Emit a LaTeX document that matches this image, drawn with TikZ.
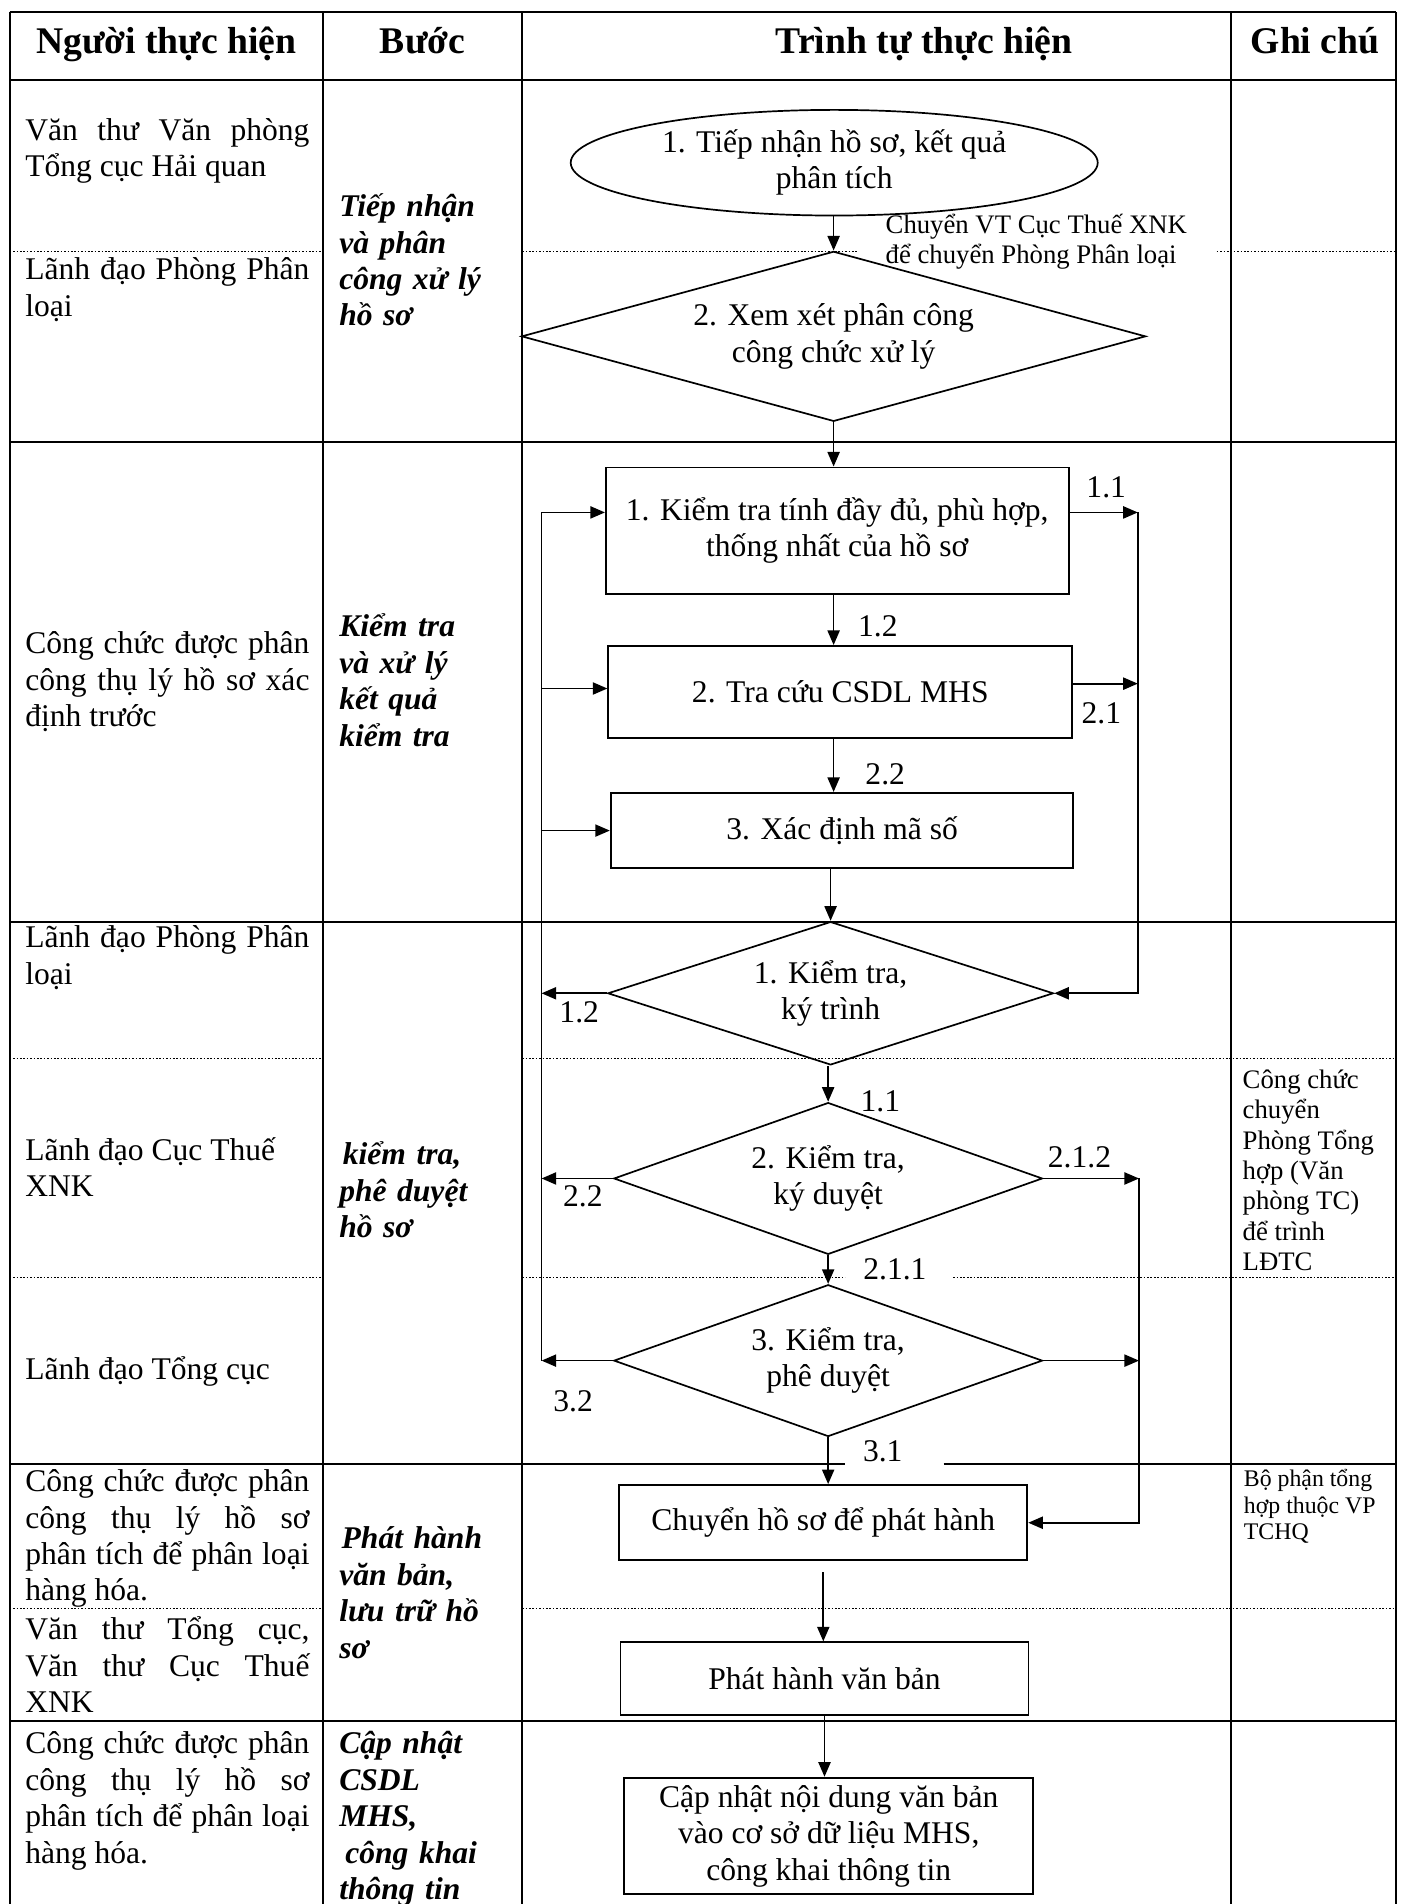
\documentclass[tikz,border=0pt]{standalone}
\usepackage{fontspec}
\setmainfont{Liberation Serif}
\usetikzlibrary{shapes.geometric,arrows.meta}
\lineskiplimit=-30pt
\newcommand{\bodyf}{\fontsize{13}{15}\selectfont}
\newcommand{\headf}{\fontsize{15.5}{18}\selectfont\bfseries}
\newcommand{\notef}{\fontsize{11}{12.5}\selectfont}
\newcommand{\notesf}{\fontsize{9.8}{10.8}\selectfont}
\newcommand{\mystrut}{\rule{0pt}{13pt}}
\newcommand{\lc}{\bodyf\tolerance=10000 \hyphenpenalty=10000 \mystrut}
\newcommand{\bc}{\bodyf\bfseries\itshape\mystrut}
\begin{document}
\begin{tikzpicture}[x=0.5pt,y=-0.5pt,
  tline/.style={line width=0.8pt},
  dline/.style={line width=0.45pt, dash pattern=on 0.7pt off 0.7pt},
  conn/.style={line width=0.7pt},
  arr/.style={conn, -{Triangle[length=6pt,width=5pt]}},
  boxn/.style={draw, line width=0.8pt, rectangle, inner sep=0pt, align=center, font=\bodyf},
  dian/.style={draw, line width=0.7pt, diamond, inner sep=0pt, align=center, font=\bodyf},
  elln/.style={draw, line width=0.7pt, ellipse, inner sep=0pt, align=center, font=\bodyf},
  lcol/.style={anchor=north west, inner sep=0pt, text width=117pt, align=justify, font=\bodyf},
  bcol/.style={anchor=north west, inner sep=0pt, text width=80pt, align=left, font=\bodyf},
  hdr/.style={anchor=base, inner sep=0pt, font=\headf},
  lab/.style={inner sep=0pt, font=\bodyf},
  notel/.style={anchor=north west, inner sep=0pt, align=left, font=\notef},
  notes/.style={anchor=north west, inner sep=0pt, align=left, font=\notesf}
]
\useasboundingbox (0,0) rectangle (1157,1568);
\clip (0,0) rectangle (1157,1568);

% ---------- table ----------
\draw[tline] (8,10) -- (1150,10);
\draw[tline] (8,66) -- (1150,66);
\draw[tline] (8,364) -- (1150,364);
\draw[tline] (8,759) -- (1150,759);
\draw[tline] (8,1206) -- (696,1206) (777,1206) -- (1150,1206);
\draw[tline] (8,1417) -- (1150,1417);
\foreach \xx in {8,266,430,1014,1150} \draw[tline] (\xx,10) -- (\xx,1568);
\draw[dline] (8,207) -- (266,207) (430,207) -- (707,207) (1002,207) -- (1150,207);
\draw[dline] (8,872) -- (266,872) (430,872) -- (1150,872);
\draw[dline] (8,1052) -- (266,1052) (430,1052) -- (696,1052) (785,1052) -- (1150,1052);
\draw[dline] (8,1325) -- (266,1325) (430,1325) -- (1150,1325);

% ---------- header ----------
\node[hdr] (h1) at (137,44) {Người thực hiện};
\node[hdr] (h2) at (348,44) {Bước};
\node[hdr] (h3) at (761,44) {Trình tự thực hiện};
\node[hdr] (h4) at (1083,44) {Ghi chú};

% ---------- left column ----------
\node[lcol] (p1) at (20.5,89) {\lc Văn thư Văn phòng\linebreak Tổng cục Hải quan\par};
\node[lcol] (p2) at (20.5,204) {\lc Lãnh đạo Phòng Phân\linebreak loại\par};
\node[lcol] (p3) at (20.5,512) {\lc Công chức được phân\linebreak công thụ lý hồ sơ xác\linebreak định trước\par};
\node[lcol] (p4) at (20.5,754) {\lc Lãnh đạo Phòng Phân\linebreak loại\par};
\node[lcol] (p5) at (20.5,929) {\lc Lãnh đạo Cục Thuế\newline XNK\par};
\node[lcol] (p6) at (20.5,1110) {\lc Lãnh đạo Tổng cục\par};
\node[lcol] (p7) at (20.5,1202) {\lc Công chức được phân\linebreak công thụ lý hồ sơ\linebreak phân tích để phân loại\linebreak hàng hóa.\par};
\node[lcol] (p8) at (20.5,1324) {\lc Văn thư Tổng cục,\linebreak Văn thư Cục Thuế\linebreak XNK\par};
\node[lcol] (p9) at (20.5,1418) {\lc Công chức được phân\linebreak công thụ lý hồ sơ\linebreak phân tích để phân loại\linebreak hàng hóa.\par};

% ---------- step column ----------
\node[bcol] (s1) at (279,152) {\bc Tiếp nhận\newline và phân\newline công xử lý\newline hồ sơ\par};
\node[bcol] (s2) at (279,498) {\bc Kiểm tra\newline và xử lý\newline kết quả\newline kiểm tra\par};
\node[bcol] (s3) at (279,933) {\bc \hspace*{1.5pt}kiểm tra,\newline phê duyệt\newline hồ sơ\par};
\node[bcol] (s4) at (279,1249) {\bc \hspace*{1pt}Phát hành\newline văn bản,\newline lưu trữ hồ\newline sơ\par};
\node[bcol] (s5) at (279,1418) {\bc Cập nhật\newline CSDL\newline MHS,\newline \hspace*{2.5pt}công khai\newline thông tin\par};

% ---------- notes ----------
\node[notel] (g1) at (1023,874) {\rule{0pt}{11pt}Công chức\\chuyển\\Phòng Tổng\\hợp (Văn\\phòng TC)\\để trình\\LĐTC};
\node[notes] (g2) at (1024,1204) {\rule{0pt}{10pt}Bộ phận tổng\\hợp thuộc VP\\TCHQ};
\node[notel] (t0) at (729,170) {\rule{0pt}{11pt}Chuyển VT Cục Thuế XNK\\để chuyển Phòng Phân loại};

% ---------- flow shapes ----------
\node[elln, minimum width=217pt, minimum height=43.5pt] (e1) at (687,134) {1. Tiếp nhận hồ sơ, kết quả\\phân tích};
\node[dian, shape aspect=3.67, minimum width=257pt, minimum height=70pt] (d1) at (686.5,277) {2. Xem xét phân công\\công chức xử lý};
\node[boxn, minimum width=190.5pt, minimum height=52pt] (b1) at (689.5,437) {1. Kiểm tra tính đầy đủ, phù hợp,\\thống nhất của hồ sơ};
\node[boxn, minimum width=191pt, minimum height=38pt] (b2) at (692,570) {2. Tra cứu CSDL MHS};
\node[boxn, minimum width=190.5pt, minimum height=31pt] (b3) at (693.5,684) {3. Xác định mã số};
\node[dian, shape aspect=3.1, minimum width=183.5pt, minimum height=59pt] (k1) at (684,818) {1. Kiểm tra,\\ký trình};
\node[dian, shape aspect=2.82, minimum width=176.5pt, minimum height=62.5pt] (k2) at (682,970.5) {2. Kiểm tra,\\ký duyệt};
\node[dian, shape aspect=2.82, minimum width=176.5pt, minimum height=62.5pt] (k3) at (682,1120.5) {3. Kiểm tra,\\phê duyệt};
\node[boxn, minimum width=168pt, minimum height=31pt] (c1) at (678,1254) {Chuyển hồ sơ để phát hành};
\node[boxn, minimum width=168pt, minimum height=30pt] (c2) at (679,1382.5) {Phát hành văn bản};
\node[boxn, minimum width=168.5pt, minimum height=48pt] (c3) at (682.5,1512) {Cập nhật nội dung văn bản\\vào cơ sở dữ liệu MHS,\\công khai thông tin};

% ---------- connector labels ----------
\node[lab] (n11a) at (911,401) {1.1};
\node[lab] (n12a) at (723,516) {1.2};
\node[lab] (n21) at (907,587) {2.1};
\node[lab] (n22a) at (729,638) {2.2};
\node[lab] (n12b) at (477,834) {1.2};
\node[lab] (n11b) at (725,907) {1.1};
\node[lab] (n22b) at (480,985) {2.2};
\node[lab] (n212) at (889,953) {2.1.2};
\node[lab] (n211) at (737,1045) {2.1.1};
\node[lab] (n32) at (472,1154) {3.2};
\node[lab] (n31) at (727,1195) {3.1};

% ---------- connectors ----------
\coordinate (Lt) at (446,422);
\coordinate (Lb) at (446,1120.5);
\coordinate (R1t) at (937,422);
\coordinate (R1b) at (937,818);
\coordinate (R2t) at (938,970.5);
\coordinate (R2b) at (938,1254);
\coordinate (yb2r) at (0,563);
\coordinate (yb2l) at (0,567);

\draw[arr] (d1.north |- e1.south) -- (d1.north);
\draw[arr] (d1.south) -- (d1.south |- b1.north);
\draw[arr] (b1.south -| d1.south) -- (b2.north -| d1.south);
\draw[arr] (b2.south -| d1.south) -- (b3.north -| d1.south);
\draw[arr] (b3.south -| k1.north) -- (k1.north);
\draw[arr] (k1.south -| k2.north) -- (k2.north);
\draw[arr] (k2.south) -- (k3.north);
\draw[arr] (k3.south) -- (k3.south |- c1.north);
\draw[arr] ([yshift=-4.5pt]c1.south) -- (c1.south |- c2.north);
\draw[arr] (c2.south) -- (c2.south |- c3.north);

\draw[conn] (Lt) -- (Lb);
\draw[arr] (Lt) -- (Lt -| b1.west);
\draw[arr] (yb2l -| Lt) -- (yb2l -| b2.west);
\draw[arr] (b3.west -| Lt) -- (b3.west);
\draw[arr] (k1.west) -- (k1.west -| Lt);
\draw[arr] (k2.west) -- (k2.west -| Lt);
\draw[arr] (k3.west) -- (Lb);

\draw[arr] (R1t -| b1.east) -- (R1t);
\draw[arr] (yb2r -| b2.east) -- (yb2r -| R1t);
\draw[arr] (R1t) -- (R1b) -- (k1.east);
\draw[arr] (k2.east) -- (R2t);
\draw[arr] (k3.east) -- (k3.east -| R2t);
\draw[arr] (R2t) -- (R2b) -- (c1.east);
\end{tikzpicture}
\end{document}
